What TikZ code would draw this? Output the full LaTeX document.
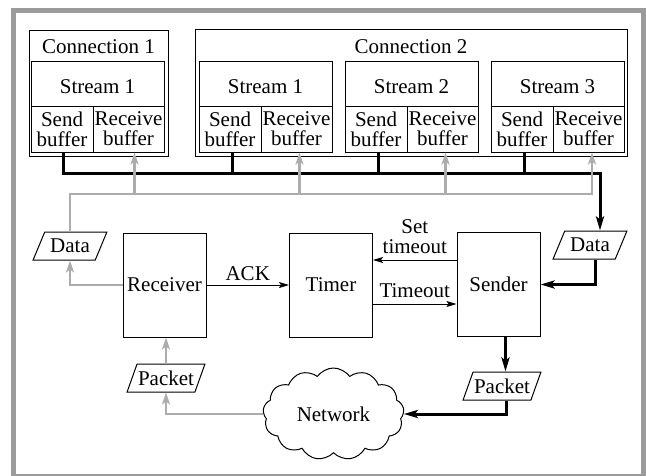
\documentclass[tikz,border=0pt]{standalone}
\usepackage{fontspec}
\setmainfont{Liberation Serif}
\usetikzlibrary{arrows.meta,shapes.geometric,shapes.symbols}
\definecolor{framegray}{RGB}{155,155,155}
\definecolor{linegray}{RGB}{172,172,172}
\tikzset{
  box/.style={draw, line width=1pt, inner sep=0pt},
  buf/.style={box, minimum height=46pt, align=center},
  strm/.style={box, minimum width=133pt, minimum height=45pt, text height=21pt},
  blk/.style={draw, line width=1pt, minimum width=83pt, minimum height=104pt},
  data/.style={draw, line width=1pt, trapezium, trapezium left angle=65,
    trapezium right angle=115, trapezium stretches=true, minimum height=28pt,
    inner xsep=1pt},
  bus/.style={line width=3pt},
  feed/.style={line width=3pt, -{Stealth[length=14pt,width=8pt,inset=3pt]}},
  back/.style={linegray, line width=2.5pt, -{Stealth[length=12pt,width=8pt,inset=3pt]}},
  sig/.style={line width=1pt, -{Stealth[length=10pt,width=6pt,inset=2pt]}}
}

\begin{document}
\begin{tikzpicture}[x=1pt, y=-1pt, every node/.style={font=\fontsize{21}{20}\selectfont}]
\useasboundingbox (0,0) rectangle (646,475);
\draw[framegray, line width=5pt] (13.5,10.5) rectangle (643.5,476);

% connection 1
\node[box, minimum width=139pt, minimum height=126pt] (con1) at (98.5,93) {};
\node (con1t) at (98.5,47) {Connection 1};
\node[strm] (st11) at (97.5,83.5) {Stream 1};
\node[buf, minimum width=62pt] (sb11) at (62,129) {Send\\buffer};
\node[buf, minimum width=71pt] (rb11) at (128.5,129) {Receive\\buffer};

% connection 2
\node[box, minimum width=432pt, minimum height=127pt] (con2) at (411,92.5) {};
\node (con2t) at (411,47) {Connection 2};
\foreach \i/\x in {1/199, 2/345, 3/491} {
  \node[strm] (st2\i) at (\x+66.5,83.5) {Stream \i};
  \node[buf, minimum width=62pt] (sb2\i) at (\x+31,129) {Send\\buffer};
  \node[buf, minimum width=71pt] (rb2\i) at (\x+97.5,129) {Receive\\buffer};
}

% middle row
\node[data, minimum width=74pt] (dataL) at (70,246) {Data};
\node[blk] (rcv) at (164.5,285) {Receiver};
\node[blk] (tmr) at (331,285) {Timer};
\node[blk] (snd) at (498.5,284.5) {Sender};
\node[data, minimum width=74pt] (dataR) at (590,245) {Data};

% bottom row
\node[data, minimum width=78pt] (pktL) at (166,378) {Packet};
\node[data, minimum width=78pt] (pktR) at (502,386) {Packet};
\node[draw, line width=1pt, cloud, cloud puffs=13, cloud puff arc=110, cloud ignores aspect,
  minimum width=141pt, minimum height=92pt] (net) at (333.5,414) {Network};

% send buffers -> sender
\coordinate (kbus) at (600,173);
\draw[feed] ([xshift=1pt]sb11.south) |- (kbus) -- (kbus |- dataR.north);
\foreach \i in {1,2,3}
  \draw[bus] ([xshift=2pt]sb2\i.south) -- ([xshift=2pt]sb2\i.south |- kbus);

% receiver -> receive buffers
\coordinate (gbus) at (592,194);
\draw[back] (dataL.north) |- (gbus) -- (gbus |- rb23.south);
\draw[back] ([xshift=6pt]rb11.south |- gbus) -- ([xshift=6pt]rb11.south);
\foreach \i in {1,2}
  \draw[back] ([xshift=3pt]rb2\i.south |- gbus) -- ([xshift=3pt]rb2\i.south);
\draw[back] (rcv.west) -| (dataL.south);
\draw[back] (net.west) -| (pktL.south);
\draw[back] (pktL.north) -- (pktL.north |- rcv.south);

% sender side
\draw[feed] ([xshift=5pt]dataR.south) |- (snd.east);
\draw[feed] ([xshift=7pt]snd.south) -- ([xshift=7pt]snd.south |- pktR.north);
\draw[feed] ([xshift=4pt]pktR.south) |- (net.east);

% timer signals
\draw[sig] (rcv) -- node[above] (ack) {ACK} (tmr);
\draw[sig] (snd.west |- 0,260) -- node[above=2pt, align=center] (sett) {Set\\timeout} (tmr.east |- 0,260);
\draw[sig] (tmr.east |- 0,304) -- node[above=2pt] (tout) {Timeout} (snd.west |- 0,304);
\end{tikzpicture}
\end{document}
